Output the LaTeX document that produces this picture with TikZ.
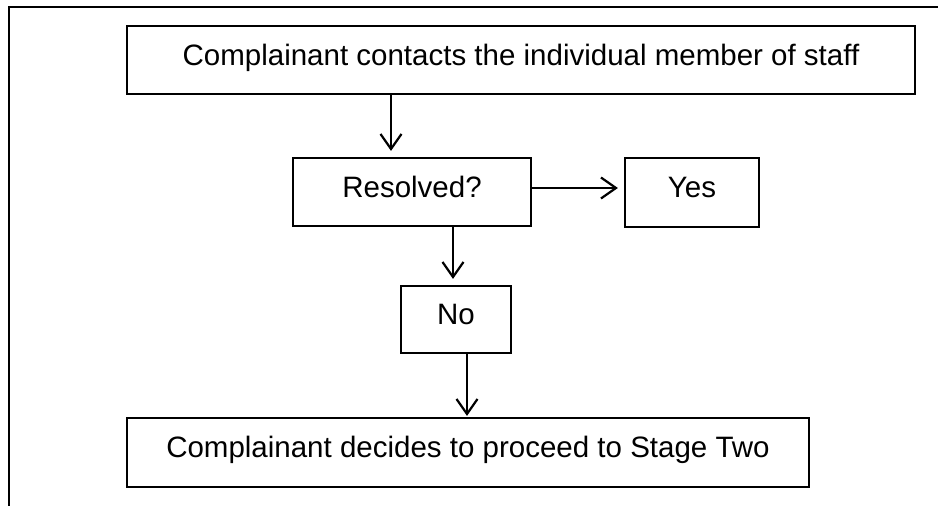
\documentclass[tikz,border=0pt]{standalone}
\usepackage{fontspec}
\setmainfont{Liberation Sans}
\usetikzlibrary{arrows.meta}
\begin{document}
\begin{tikzpicture}[x=1pt,y=-1pt,
  box/.style={draw,line width=2.2pt,inner sep=0pt,text height=21pt,text depth=11pt,
    font=\fontsize{29.5}{35}\selectfont},
  arr/.style={line width=2.2pt,-{Straight Barb[length=15pt,width=21pt,line width=2.2pt]},shorten >=6pt}]
\useasboundingbox (0,0) rectangle (938,506);
\draw[line width=2.6pt] (9,510) -- (9,7) -- (942,7);
\node[box,minimum width=788pt,minimum height=68pt] (top) at (521,60) {Complainant contacts the individual member of staff};
\node[box,minimum width=238pt,minimum height=68pt] (res) at (412,192) {Resolved?};
\node[box,minimum width=134pt,minimum height=69pt] (yes) at (692,192.5) {Yes};
\node[box,minimum width=110pt,minimum height=67pt] (no) at (456,319.5) {No};
\node[box,minimum width=682pt,minimum height=69pt] (bot) at (468,452.5) {Complainant decides to proceed to Stage Two};
\draw[arr] ([xshift=-130pt]top.south) -- ([xshift=-21pt]res.north);
\draw[arr] ([yshift=4pt]res.east) -- ([yshift=4.5pt]yes.west);
\draw[arr] ([xshift=41pt]res.south) -- ([xshift=-3pt]no.north);
\draw[arr,shorten >=1pt] ([xshift=11pt]no.south) -- ([xshift=-1pt]bot.north);
\end{tikzpicture}
\end{document}
